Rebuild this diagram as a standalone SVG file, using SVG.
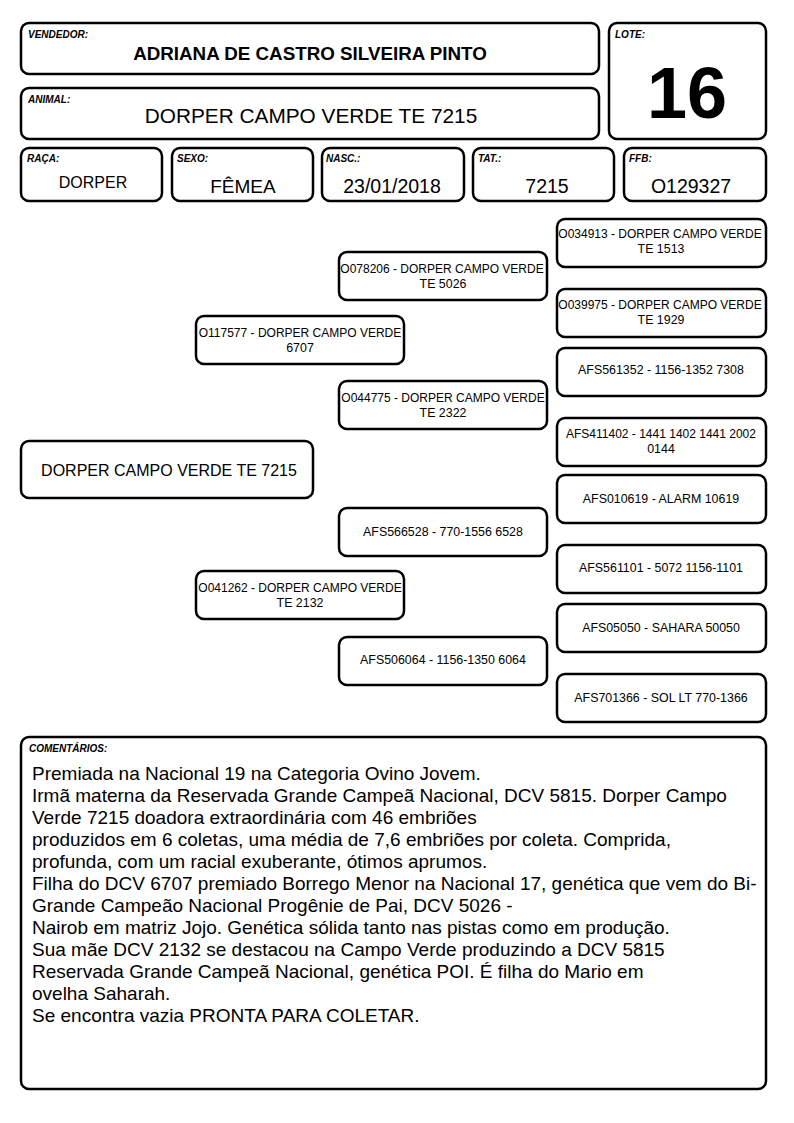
<svg xmlns="http://www.w3.org/2000/svg" width="794" height="1123" viewBox="0 0 794 1123">
<style>
.b{fill:#fff;stroke:#000;stroke-width:2.5}
.lbl{font-family:"Liberation Sans",Arial,sans-serif;font-size:10px;font-weight:bold;font-style:italic}
.v{font-family:"Liberation Sans",Arial,sans-serif;text-anchor:middle}
.p{font-family:"Liberation Sans",Arial,sans-serif;font-size:12.4px;text-anchor:middle}
.q{font-family:"Liberation Sans",Arial,sans-serif;font-size:12px;text-anchor:middle}
.c{font-family:"Liberation Sans",Arial,sans-serif;font-size:19px}
</style>
<rect width="794" height="1123" fill="#fff"/>
<g id="vendedor"><rect class="b" x="21" y="23" width="578" height="51" rx="8"/><text class="lbl" x="28" y="38">VENDEDOR:</text><text class="v" x="310" y="60" font-size="18.8" font-weight="bold">ADRIANA DE CASTRO SILVEIRA PINTO</text></g>
<g id="animal"><rect class="b" x="21" y="88" width="578" height="51" rx="8"/><text class="lbl" x="28" y="103">ANIMAL:</text><text class="v" x="311" y="123" font-size="20.8">DORPER CAMPO VERDE TE 7215</text></g>
<g id="lote"><rect class="b" x="609" y="23" width="157" height="116" rx="8"/><text class="lbl" x="615" y="38">LOTE:</text><text class="v" x="687" y="118" font-size="72" font-weight="bold">16</text></g>
<g id="raca"><rect class="b" x="21" y="148" width="141" height="53" rx="8"/><text class="lbl" x="27" y="162">RAÇA:</text><text class="v" x="93" y="188" font-size="16">DORPER</text></g>
<g id="sexo"><rect class="b" x="172" y="148" width="141" height="53" rx="8"/><text class="lbl" x="177" y="162">SEXO:</text><text class="v" x="243" y="193" font-size="19">FÊMEA</text></g>
<g id="nasc"><rect class="b" x="322" y="148" width="142" height="53" rx="8"/><text class="lbl" x="326" y="162">NASC.:</text><text class="v" x="392" y="193" font-size="19.5">23/01/2018</text></g>
<g id="tat"><rect class="b" x="473" y="148" width="141" height="53" rx="8"/><text class="lbl" x="478" y="162">TAT.:</text><text class="v" x="547" y="193" font-size="19.5">7215</text></g>
<g id="ffb"><rect class="b" x="624" y="148" width="142" height="53" rx="8"/><text class="lbl" x="629" y="162">FFB:</text><text class="v" x="691" y="193" font-size="19.5">O129327</text></g>
<g id="connectors"></g>
<g id="main"><rect class="b" x="21" y="441" width="292" height="57" rx="8"/><text class="v" x="169" y="476" font-size="16">DORPER CAMPO VERDE TE 7215</text></g>
<g id="sire"><rect class="b" x="196" y="316" width="208" height="48" rx="8"/><text class="q" x="300" y="337">O117577 - DORPER CAMPO VERDE</text><text class="p" x="300" y="352">6707</text></g>
<g id="dam"><rect class="b" x="196" y="571" width="208" height="48" rx="8"/><text class="q" x="300" y="592">O041262 - DORPER CAMPO VERDE</text><text class="p" x="300" y="607">TE 2132</text></g>
<g id="ss"><rect class="b" x="339" y="252" width="208" height="48" rx="8"/><text class="q" x="442" y="273">O078206 - DORPER CAMPO VERDE</text><text class="p" x="443" y="288">TE 5026</text></g>
<g id="sd"><rect class="b" x="339" y="381" width="208" height="48" rx="8"/><text class="q" x="443" y="402">O044775 - DORPER CAMPO VERDE</text><text class="p" x="443" y="417">TE 2322</text></g>
<g id="ds"><rect class="b" x="339" y="508" width="208" height="48" rx="8"/><text class="p" x="443" y="536">AFS566528 - 770-1556 6528</text></g>
<g id="dd"><rect class="b" x="339" y="637" width="208" height="48" rx="8"/><text class="p" x="443" y="664">AFS506064 - 1156-1350 6064</text></g>
<g id="sss"><rect class="b" x="557" y="219" width="209" height="48" rx="8"/><text class="q" x="660" y="238">O034913 - DORPER CAMPO VERDE</text><text class="p" x="661" y="253">TE 1513</text></g>
<g id="ssd"><rect class="b" x="557" y="289" width="209" height="48" rx="8"/><text class="q" x="660" y="309">O039975 - DORPER CAMPO VERDE</text><text class="p" x="661" y="324">TE 1929</text></g>
<g id="sds"><rect class="b" x="557" y="348" width="209" height="48" rx="8"/><text class="p" x="661" y="374">AFS561352 - 1156-1352 7308</text></g>
<g id="sdd"><rect class="b" x="557" y="418" width="209" height="48" rx="8"/><text class="q" x="661" y="438">AFS411402 - 1441 1402 1441 2002</text><text class="p" x="661" y="453">0144</text></g>
<g id="dss"><rect class="b" x="557" y="475" width="209" height="48" rx="8"/><text class="p" x="661" y="503">AFS010619 - ALARM 10619</text></g>
<g id="dsd"><rect class="b" x="557" y="545" width="209" height="48" rx="8"/><text class="p" x="661" y="572">AFS561101 - 5072 1156-1101</text></g>
<g id="dds"><rect class="b" x="557" y="604" width="209" height="48" rx="8"/><text class="p" x="661" y="632">AFS05050 - SAHARA 50050</text></g>
<g id="ddd"><rect class="b" x="557" y="674" width="209" height="48" rx="8"/><text class="p" x="661" y="702">AFS701366 - SOL LT 770-1366</text></g>
<g id="comentarios"><rect class="b" x="21" y="737" width="745" height="352" rx="8"/><text class="lbl" x="29" y="752">COMENTÁRIOS:</text>
<text class="c" x="32" y="780">Premiada na Nacional 19 na Categoria Ovino Jovem.</text>
<text class="c" x="32" y="802">Irmã materna da Reservada Grande Campeã Nacional, DCV 5815. Dorper Campo</text>
<text class="c" x="32" y="824">Verde 7215 doadora extraordinária com 46 embriões</text>
<text class="c" x="32" y="846">produzidos em 6 coletas, uma média de 7,6 embriões por coleta. Comprida,</text>
<text class="c" x="32" y="868">profunda, com um racial exuberante, ótimos aprumos.</text>
<text class="c" x="32" y="890">Filha do DCV 6707 premiado Borrego Menor na Nacional 17, genética que vem do Bi-</text>
<text class="c" x="32" y="912">Grande Campeão Nacional Progênie de Pai, DCV 5026 -</text>
<text class="c" x="32" y="934">Nairob em matriz Jojo. Genética sólida tanto nas pistas como em produção.</text>
<text class="c" x="32" y="956">Sua mãe DCV 2132 se destacou na Campo Verde produzindo a DCV 5815</text>
<text class="c" x="32" y="978">Reservada Grande Campeã Nacional, genética POI. É filha do Mario em</text>
<text class="c" x="32" y="1000">ovelha Saharah.</text>
<text class="c" x="32" y="1022">Se encontra vazia PRONTA PARA COLETAR.</text>
</g>
</svg>
